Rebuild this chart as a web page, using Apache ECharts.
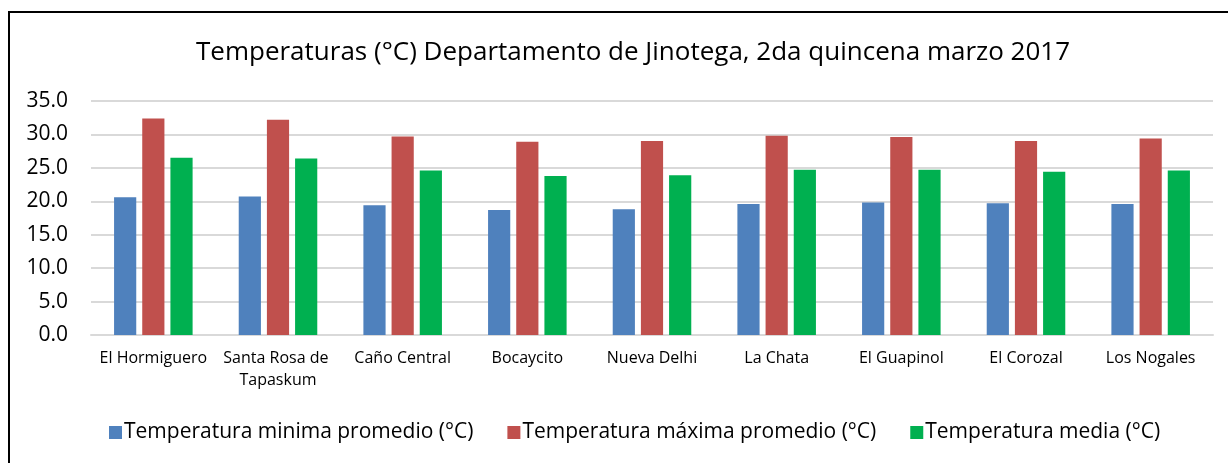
<!DOCTYPE html>
<html>
<head>
<meta charset="utf-8">
<script src="https://cdn.jsdelivr.net/npm/echarts@6/dist/echarts.min.js"></script>
<style>
	html, body { margin: 0; padding: 0; background: #fff; overflow: hidden; }
	#frame { position: absolute; left: 8px; top: 11px; width: 1240px; height: 480px; border: 2px solid #000; box-sizing: border-box; }
	#chart { position: absolute; left: 0; top: 0; width: 1228px; height: 463px; }
</style>
</head>
<body>
<div id="frame"></div>
<div id="chart"></div>
<script>
var categories = ['El Hormiguero', 'Santa Rosa de Tapaskum', 'Caño Central', 'Bocaycito', 'Nueva Delhi', 'La Chata', 'El Guapinol', 'El Corozal', 'Los Nogales'];
var tempMin = [20.6, 20.7, 19.4, 18.7, 18.8, 19.6, 19.8, 19.7, 19.6];
var tempMax = [32.4, 32.2, 29.7, 28.9, 29.0, 29.8, 29.6, 29.0, 29.4];
var tempMedia = [26.5, 26.4, 24.6, 23.8, 23.9, 24.7, 24.7, 24.4, 24.6];
var seriesNames = ['Temperatura minima promedio (°C)', 'Temperatura máxima promedio (°C)', 'Temperatura media (°C)'];

var font = 'Open Sans';

var option = {
	animation: false,
	color: ['#4F81BD', '#C0504D', '#00B050'],
	title: {
		text: 'Temperaturas (°C) Departamento de Jinotega, 2da quincena marzo 2017',
		left: 191,
		top: 35,
		textStyle: { fontFamily: font, fontSize: 26, fontWeight: 'normal', color: '#000' }
	},
	legend: {
		data: seriesNames,
		bottom: 15,
		left: 104,
		itemWidth: 13,
		itemHeight: 13,
		itemGap: 34,
		icon: 'rect',
		textStyle: { fontFamily: font, fontSize: 21, color: '#000', padding: [0, 0, 0, -3] }
	},
	grid: {
		left: 91,
		right: 15,
		top: 101,
		bottom: 128
	},
	xAxis: {
		type: 'category',
		data: categories,
		axisLine: { lineStyle: { color: '#D9D9D9', width: 2 } },
		axisTick: { show: false },
		axisLabel: {
			interval: 0,
			margin: 12,
			width: 118,
			overflow: 'break',
			lineHeight: 22,
			fontFamily: font,
			fontSize: 16,
			color: '#000'
		}
	},
	yAxis: {
		type: 'value',
		min: 0,
		max: 35,
		interval: 5,
		axisLine: { show: false },
		axisTick: { show: false },
		splitLine: { lineStyle: { color: '#D9D9D9', width: 2 } },
		axisLabel: {
			margin: 23,
			fontFamily: font,
			fontSize: 21,
			color: '#000',
			formatter: function (v) { return v.toFixed(1); }
		}
	},
	series: [{
		name: seriesNames[0],
		type: 'bar',
		barGap: '27%',
		barCategoryGap: '37%',
		data: tempMin
	}, {
		name: seriesNames[1],
		type: 'bar',
		data: tempMax
	}, {
		name: seriesNames[2],
		type: 'bar',
		data: tempMedia
	}]
};
echarts.init(document.getElementById('chart')).setOption(option);
</script>
</body>
</html>
